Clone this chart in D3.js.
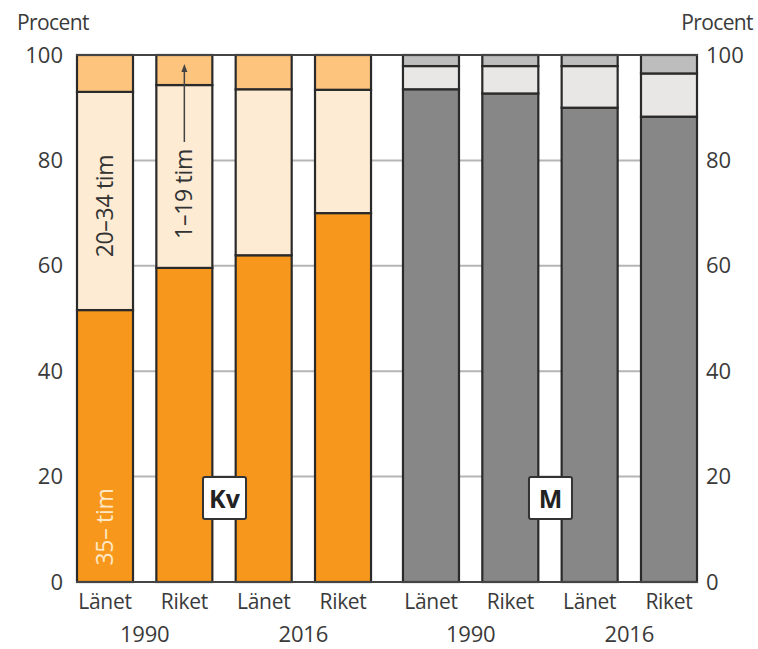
<!DOCTYPE html>
<html><head><meta charset="utf-8">
<script src="https://cdn.jsdelivr.net/npm/d3@7"></script>
<style>body{margin:0;background:#fff}svg{display:block}text{font-family:"Open Sans",sans-serif}</style>
</head><body><svg id="c" width="758" height="649"></svg>
<script>
const groups = ["Kv", "M"];
const regions = ["Länet", "Riket", "Länet", "Riket"];
const years = ["1990", "1990", "2016", "2016"];
const yearLabels = ["1990", "2016"];
const keys = ["h35", "h20", "h1"];
const kv35 = [51.6, 59.6, 62.0, 70.0];
const kv20 = [41.4, 34.7, 31.5, 23.4];
const kv1 = [7.0, 5.7, 6.5, 6.6];
const m35 = [93.5, 92.7, 90.0, 88.3];
const m20 = [4.4, 5.2, 7.9, 8.2];
const m1 = [2.1, 2.1, 2.1, 3.5];
const yTicks = [0, 20, 40, 60, 80, 100];

const colors = {
  Kv: {h35: "#f7981d", h20: "#fdebd3", h1: "#fdc47e"},
  M: {h35: "#878787", h20: "#e9e7e5", h1: "#bdbdbd"}
};
const rows = {
  Kv: regions.map((r, i) => ({id: i, h35: kv35[i], h20: kv20[i], h1: kv1[i]})),
  M: regions.map((r, i) => ({id: i, h35: m35[i], h20: m20[i], h1: m1[i]}))
};

const svg = d3.select("#c");
const L = 77, R = 697, T = 55, B = 582;
const txt = "#3a3a3a";
const y = d3.scaleLinear().domain([0, 100]).range([B, T]);
const xo = d3.scaleBand().domain(groups).range([L, R]).paddingInner(0.098).paddingOuter(0);
const xi = d3.scaleBand().domain(d3.range(4)).range([0, xo.bandwidth()]).paddingInner(0.294).paddingOuter(0);

// gridlines
svg.append("g").selectAll("line").data(yTicks.filter(t => t > 0 && t < 100)).join("line")
  .attr("x1", L).attr("x2", R).attr("y1", d => y(d)).attr("y2", d => y(d))
  .attr("stroke", "#b5b5b5").attr("stroke-width", 2);

const stack = d3.stack().keys(keys);
groups.forEach(g => {
  const series = stack(rows[g]);
  const gg = svg.append("g").attr("transform", `translate(${xo(g)},0)`);
  series.forEach(s => {
    gg.selectAll(null).data(s).join("rect")
      .attr("x", (d, i) => xi(i))
      .attr("width", xi.bandwidth())
      .attr("y", d => y(d[1]))
      .attr("height", d => y(d[0]) - y(d[1]))
      .attr("fill", colors[g][s.key])
      .attr("stroke", "#2a2a2a").attr("stroke-width", 2.2);
  });
});

// top and bottom lines
[0, 100].forEach(v => svg.append("line").attr("x1", L - 1).attr("x2", R + 1)
  .attr("y1", y(v)).attr("y2", y(v)).attr("stroke", "#444").attr("stroke-width", 2));

// axes
const axL = d3.axisLeft(y).tickValues(yTicks).tickSize(0).tickPadding(14);
const gl = svg.append("g").attr("transform", `translate(${L},0)`).call(axL);
const axR = d3.axisRight(y).tickValues(yTicks).tickSize(0).tickPadding(9);
const gr = svg.append("g").attr("transform", `translate(${R},0)`).call(axR);
[gl, gr].forEach(a => {
  a.select(".domain").remove();
  a.selectAll("text").attr("font-size", 22).attr("fill", txt).attr("font-family", "Open Sans");
});
svg.append("text").attr("x", 17).attr("y", 30).attr("font-size", 21).attr("fill", txt).attr("letter-spacing", -0.6).text("Procent");
svg.append("text").attr("x", 753).attr("y", 30).attr("text-anchor", "end").attr("font-size", 21).attr("fill", txt).attr("letter-spacing", -0.6).text("Procent");

// bottom labels
groups.forEach(g => {
  regions.forEach((r, i) => {
    svg.append("text").attr("x", xo(g) + xi(i) + xi.bandwidth() / 2).attr("y", 609)
      .attr("text-anchor", "middle").attr("font-size", 21).attr("letter-spacing", -0.3).attr("fill", txt).text(r);
  });
  yearLabels.forEach((yl, j) => {
    const cx = xo(g) + (xi(2 * j) + xi(2 * j + 1) + xi.bandwidth()) / 2;
    svg.append("text").attr("x", cx).attr("y", 642)
      .attr("text-anchor", "middle").attr("font-size", 22).attr("letter-spacing", -0.2).attr("fill", txt).text(yl);
  });
});

// group boxes
groups.forEach(g => {
  const cx = xo(g) + (xi(1) + xi.bandwidth() + xi(2)) / 2;
  svg.append("rect").attr("x", cx - 21).attr("y", 477).attr("width", 43).attr("height", 42)
    .attr("rx", 2).attr("fill", "#fff").attr("stroke", "#333").attr("stroke-width", 2);
  svg.append("text").attr("x", cx + 0.5).attr("y", 508).attr("text-anchor", "middle")
    .attr("font-size", 25).attr("font-weight", "bold").attr("fill", "#222").text(g);
});

// in-bar labels
const bx = i => xo("Kv") + xi(i) + xi.bandwidth() / 2;
function vtext(x, yc, t, fill) {
  svg.append("text").attr("transform", `translate(${x + 8},${yc}) rotate(-90)`)
    .attr("text-anchor", "middle").attr("font-size", 23).attr("letter-spacing", -0.3).attr("fill", fill).text(t);
}
vtext(bx(0), 527, "35– tim", "#fde8c6");
vtext(bx(0), 206, "20–34 tim", "#333");
vtext(bx(1), 194, "1–19 tim", "#333");
svg.append("line").attr("x1", bx(1)).attr("x2", bx(1)).attr("y1", 142).attr("y2", 70)
  .attr("stroke", "#444").attr("stroke-width", 1.5);
svg.append("path").attr("d", `M${bx(1) - 3},72 L${bx(1)},64 L${bx(1) + 3},72 Z`).attr("fill", "#444");
</script></body></html>
